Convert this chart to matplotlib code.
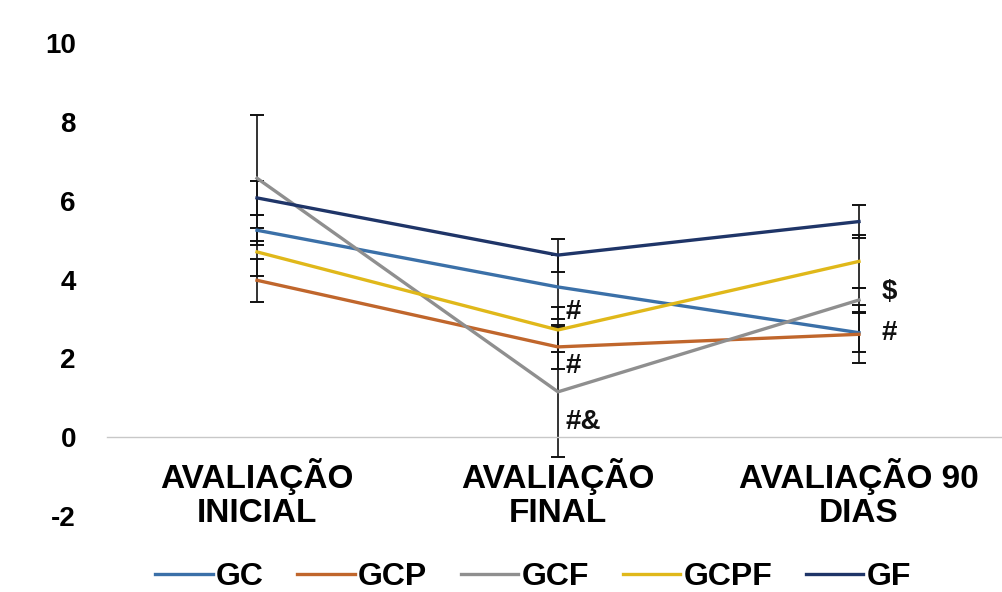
import numpy as np
import matplotlib
matplotlib.use("Agg")
import matplotlib.pyplot as plt

plt.rcParams['font.family'] = ['Liberation Sans', 'DejaVu Sans']
plt.rcParams['font.weight'] = 'bold'
plt.rcParams['axes.unicode_minus'] = False

categories = ['AVALIAÇÃO\nINICIAL', 'AVALIAÇÃO\nFINAL', 'AVALIAÇÃO 90\nDIAS']
groups = ['GC', 'GCP', 'GCF', 'GCPF', 'GF']

gc = [5.25, 3.81, 2.65]
gcp = [3.98, 2.29, 2.61]
gcf = [6.57, 1.15, 3.48]
gcpf = [4.70, 2.72, 4.46]
gf = [6.07, 4.62, 5.47]

gc_err = [0.38, 0.80, 0.50]
gcp_err = [0.54, 0.55, 0.74]
gcf_err = [1.60, 1.65, 0.30]
gcpf_err = [0.60, 0.57, 0.67]
gf_err = [0.44, 0.42, 0.42]

# significance marks: (category index, y value, text)
marks = [(1, 3.17, '#'), (1, 1.80, '#'), (1, 0.38, '#&'),
         (2, 3.68, '$'), (2, 2.64, '#')]

colors = ['#3b70a8', '#c0662c', '#8f8f8f', '#e0b81a', '#1f3568']
series = [gc, gcp, gcf, gcpf, gf]
errors = [gc_err, gcp_err, gcf_err, gcpf_err, gf_err]

fig = plt.figure(figsize=(10.02, 5.92), dpi=100)
ax = fig.add_axes([106.5 / 1002, 1 - 516 / 592, 895.5 / 1002, 473 / 592])

# spine first, set_position resets tick settings
for s in ['top', 'right', 'left']:
    ax.spines[s].set_visible(False)
ax.spines['bottom'].set_position(('data', 0))
ax.spines['bottom'].set_color('#c8c8c8')
ax.spines['bottom'].set_linewidth(1.0)

x = np.arange(len(categories))
handles = []
for name, vals, err, c in zip(groups, series, errors, colors):
    ax.errorbar(x, vals, yerr=err, fmt='none', ecolor='#111111',
                elinewidth=1.2, capsize=5, capthick=1.4, zorder=2)
    h, = ax.plot(x, vals, color=c, linewidth=2.4, label=name, zorder=3)
    handles.append(h)

for xi, yi, t in marks:
    dx = 0.025 if xi == 1 else 0.075
    ax.text(xi + dx, yi, t, fontsize=20, fontweight='bold', ha='left',
            va='center', color='#111111', zorder=4)

ax.set_xlim(-0.5, -0.5 + 895.5 / 301)
ax.set_ylim(-2, 10)
ax.set_yticks(range(-2, 11, 2))
ax.set_xticks(x)
ax.set_xticklabels(categories, fontsize=24, fontweight='bold', linespacing=1.12)
ax.tick_params(axis='y', length=0, pad=22, labelsize=20)
ax.tick_params(axis='x', length=0, pad=15)

fig.legend(handles=handles, labels=groups, loc='center', ncol=5,
           bbox_to_anchor=(533 / 1002, 1 - 577 / 592), frameon=False,
           prop={'size': 23, 'weight': 'bold'}, handlelength=1.8,
           handletextpad=0.1, columnspacing=1.05)

fig.savefig('out.png', dpi=100)
